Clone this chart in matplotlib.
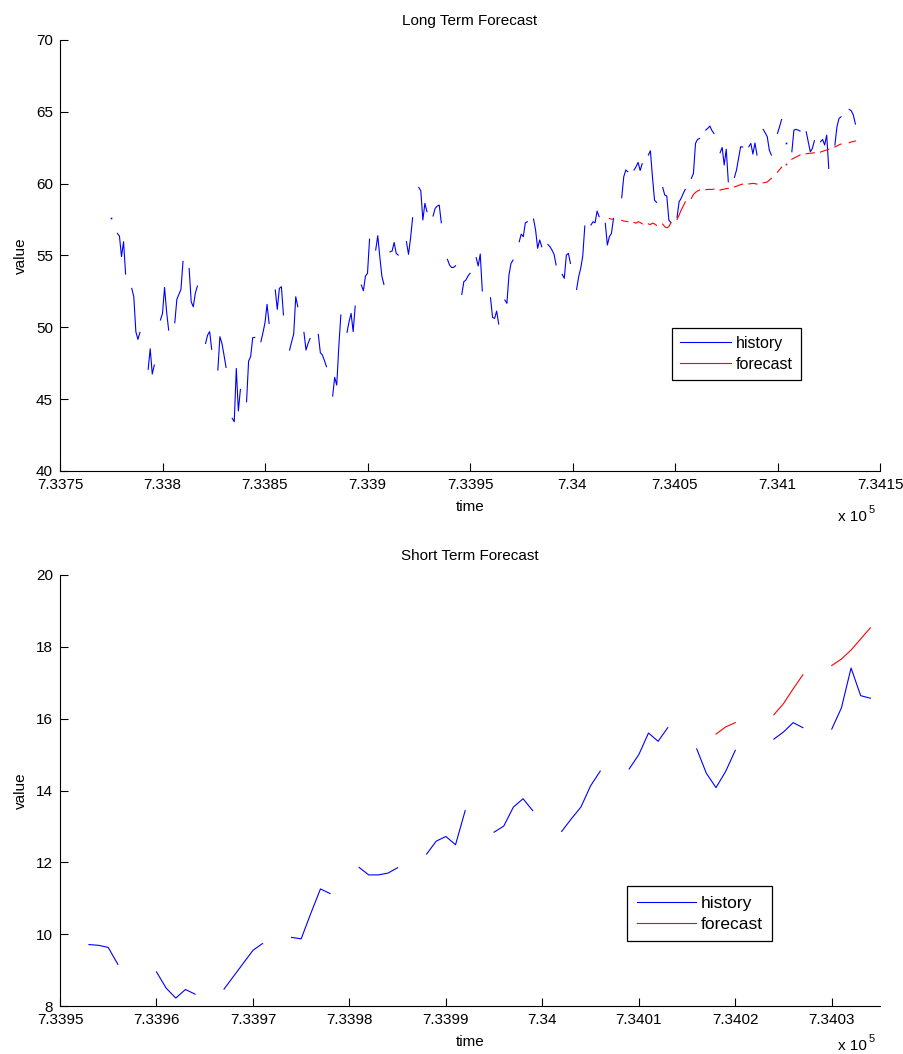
import numpy as np
import matplotlib
matplotlib.use("Agg")
import matplotlib.pyplot as plt

plt.rcParams['font.family'] = ['Liberation Sans', 'DejaVu Sans']
plt.rcParams['font.size'] = 11

nan = np.nan

# datenum of the Monday that opens each weekly block (Mon..Fri values, nan = market holiday)
long_hist_monday = 733771
long_hist_weeks = [
    [nan, nan, nan, nan, 57.58],
    [56.54, 56.35, 54.92, 55.96, 53.71],
    [52.71, 52.13, 49.70, 49.16, 49.65],
    [nan, 47.08, 48.51, 46.75, 47.38],
    [50.51, 50.97, 52.78, 51.09, 49.81],
    [50.32, 51.95, 52.29, 52.64, 54.59],
    [54.10, 51.78, 51.43, 52.36, 52.87],
    [nan, 48.88, 49.46, 49.70, 48.47],
    [47.03, 49.35, 48.88, 48.07, 47.21],
    [43.67, 43.43, 47.14, 44.18, 45.68],
    [44.82, 47.65, 47.96, 49.28, 49.30],
    [49.00, 49.63, 50.32, 51.60, 50.27],
    [52.60, 51.25, 52.71, 52.83, 50.86],
    [48.42, 49.00, 49.53, 52.13, 51.43],
    [49.65, 48.42, 48.88, 49.23, nan],
    [49.51, 48.23, 48.07, 47.68, 47.26],
    [45.22, 46.52, 45.98, 48.65, 50.86],
    [49.65, 50.39, 50.97, 49.70, 51.48],
    [52.94, 52.55, 53.57, 53.76, 56.14],
    [55.38, 56.38, 54.91, 53.57, 52.99],
    [55.26, 55.31, 55.91, 55.15, 55.03],
    [nan, 55.96, 55.08, 56.19, 57.63],
    [59.74, 59.51, 57.47, 58.63, 58.05],
    [57.75, 58.28, 58.44, 58.51, 57.28],
    [54.73, 54.34, 54.17, 54.17, 54.29],
    [52.29, 53.18, 53.29, 53.57, 53.76],
    [54.85, 54.27, 55.10, 52.53, nan],
    [52.06, 50.69, 50.62, 51.13, 50.23],
    [51.90, 51.67, 53.64, 54.45, 54.68],
    [55.96, 56.49, 56.31, 57.28, 57.35],
    [57.54, 56.77, 55.50, 56.08, 55.61],
    [55.77, 55.61, 55.38, 55.08, 54.34],
    [53.69, 53.41, 55.03, 55.15, 54.45],
    [52.64, 53.52, 54.11, 54.96, 57.05],
    [57.12, 57.35, 57.28, 58.09, 57.70],
    [57.24, 55.73, 56.31, 56.54, 57.58],
    [nan, 59.02, 60.48, 60.95, 60.83],
    [60.95, 61.18, 61.48, 60.92, 61.39],
    [61.99, 62.29, 60.48, 58.86, 58.70],
    [59.74, 59.21, 59.14, 57.47, 57.28],
    [57.65, 58.74, 58.98, 59.32, 59.60],
    [60.37, 60.72, 62.80, 63.08, 63.15],
    [63.73, 63.85, 64.01, 63.70, 63.50],
    [62.15, 62.52, 61.30, 62.40, 60.13],
    [60.44, 60.95, 61.76, 62.57, 62.55],
    [62.57, 62.80, 62.06, 62.83, 61.99],
    [63.78, 63.54, 63.27, 62.34, 61.99],
    [63.50, 63.96, 64.47, nan, 62.80],
    [62.22, 63.73, 63.78, 63.73, 63.66],
    [63.61, 62.92, 62.22, 62.45, 62.99],
    [62.92, 63.08, 62.69, 63.38, 61.06],
    [62.69, 63.96, 64.54, 64.66, nan],
    [65.17, 65.07, 64.77, 64.15, nan],
]

long_fc_monday = 734016
long_fc_weeks = [
    [nan, nan, 57.58, 57.53, 57.53],
    [nan, 57.45, 57.40, 57.38, 57.35],
    [57.30, 57.25, 57.35, 57.30, 57.20],
    [57.20, 57.15, 57.25, 57.20, 57.10],
    [57.19, 57.00, 56.93, 57.00, 57.28],
    [57.51, 57.81, 58.16, 58.44, 58.74],
    [58.98, 59.25, 59.39, 59.49, 59.55],
    [59.58, 59.60, 59.60, 59.60, 59.62],
    [59.55, 59.60, 59.62, 59.65, 59.67],
    [59.78, 59.82, 59.88, 59.93, 59.97],
    [59.98, 60.00, 60.02, 60.00, 59.97],
    [60.06, 60.08, 60.12, 60.24, 60.37],
    [60.80, 60.98, 61.15, nan, 61.40],
    [61.70, 61.78, 61.85, 61.92, 62.00],
    [62.08, 62.10, 62.12, 62.13, 62.15],
    [62.20, 62.25, 62.30, 62.35, 62.40],
    [62.55, 62.62, 62.70, 62.76, nan],
    [62.85, 62.90, 62.94, 62.97, nan],
]

short_hist_monday = 733953
short_hist_weeks = [
    [9.71, 9.69, 9.63, 9.16, nan],
    [8.95, 8.50, 8.22, 8.46, 8.33],
    [8.47, 8.83, 9.19, 9.55, 9.74],
    [9.91, 9.87, 10.58, 11.26, 11.13],
    [11.86, 11.65, 11.65, 11.70, 11.85],
    [12.23, 12.59, 12.72, 12.49, 13.44],
    [12.84, 13.01, 13.54, 13.77, 13.44],
    [12.86, 13.21, 13.54, 14.13, 14.54],
    [14.60, 15.00, 15.60, 15.37, 15.75],
    [15.16, 14.48, 14.08, 14.53, 15.12],
    [nan, 15.43, 15.63, 15.89, 15.75],
    [15.71, 16.30, 17.41, 16.64, 16.57],
]

short_fc_monday = 734016
short_fc_weeks = [
    [nan, nan, 15.57, 15.77, 15.89],
    [nan, 16.11, 16.42, 16.83, 17.22],
    [17.48, 17.66, 17.91, 18.22, 18.53],
]

long_xticks = [733750, 733800, 733850, 733900, 733950, 734000, 734050, 734100, 734150]
long_yticks = [40, 45, 50, 55, 60, 65, 70]
short_xticks = [733950, 733960, 733970, 733980, 733990, 734000, 734010, 734020, 734030]
short_yticks = [8, 10, 12, 14, 16, 18, 20]


def daily_series(monday, weeks):
    # weekday values on their dates, a nan on each weekend so the line breaks
    x, y = [], []
    for w, vals in enumerate(weeks):
        for i, v in enumerate(vals):
            x.append(monday + 7 * w + i)
            y.append(v)
        x.append(monday + 7 * w + 5)
        y.append(nan)
    return np.array(x, float), np.array(y, float)


def draw(ax, monday, weeks, color, label):
    x, y = daily_series(monday, weeks)
    ax.plot(x, y, color=color, lw=0.8, label=label)
    # single days between gaps still show as a dot
    ok = ~np.isnan(y)
    prev = np.r_[False, ok[:-1]]
    nxt = np.r_[ok[1:], False]
    lone = ok & ~prev & ~nxt
    ax.plot(x[lone], y[lone], 's', ms=1.2, color=color, mew=0)


def style(ax, xticks, yticks, xmax, title):
    ax.set_xlim(xticks[0], xmax)
    ax.set_ylim(yticks[0], yticks[-1])
    ax.set_xticks(xticks)
    ax.set_xticklabels([f"{t / 1e5:g}" for t in xticks])
    ax.set_yticks(yticks)
    ax.tick_params(direction='in', length=6, width=0.8, pad=5, labelsize=11)
    for s in ('top', 'right'):
        ax.spines[s].set_visible(False)
    for s in ('left', 'bottom'):
        ax.spines[s].set_linewidth(0.8)
    ax.set_title(title, fontsize=11, pad=11)
    ax.set_xlabel('time', fontsize=11, labelpad=5.5)
    ax.set_ylabel('value', fontsize=11, labelpad=6)


W, H = 904, 1054
fig = plt.figure(figsize=(W / 100, H / 100), dpi=100)
ax1 = fig.add_axes([60 / W, 1 - 471 / H, 820 / W, 431 / H])
ax2 = fig.add_axes([60 / W, 1 - 1006 / H, 820 / W, 431 / H])

draw(ax1, long_hist_monday, long_hist_weeks, 'b', 'history')
draw(ax1, long_fc_monday, long_fc_weeks, 'r', 'forecast')
style(ax1, long_xticks, long_yticks, 734150, 'Long Term Forecast')

draw(ax2, short_hist_monday, short_hist_weeks, 'b', 'history')
draw(ax2, short_fc_monday, short_fc_weeks, 'r', 'forecast')
style(ax2, short_xticks, short_yticks, 734035, 'Short Term Forecast')

legend_spots = (
    (ax1, (0.7463, 0.3318), 11.5, 3.2, 0.5),
    (ax2, (0.6915, 0.2784), 12.5, 3.4, 0.55),
)
for ax, anchor, fs, hl, bp in legend_spots:
    h = ax.get_lines()
    leg = ax.legend([h[0], h[2]], ['history', 'forecast'], loc='upper left',
                    bbox_to_anchor=anchor, borderaxespad=0, fancybox=False,
                    framealpha=1, edgecolor='black', handlelength=hl,
                    handletextpad=0.3, labelspacing=0.35, borderpad=bp,
                    fontsize=fs)
    leg.get_frame().set_linewidth(0.9)

# exponent note under each x axis
for y_px in (517, 1046):
    fig.text(867 / W, 1 - y_px / H, 'x 10', ha='right', va='center', fontsize=11)
    fig.text(869 / W, 1 - (y_px - 7) / H, '5', ha='left', va='center', fontsize=8)

fig.savefig('out.png', dpi=100)
